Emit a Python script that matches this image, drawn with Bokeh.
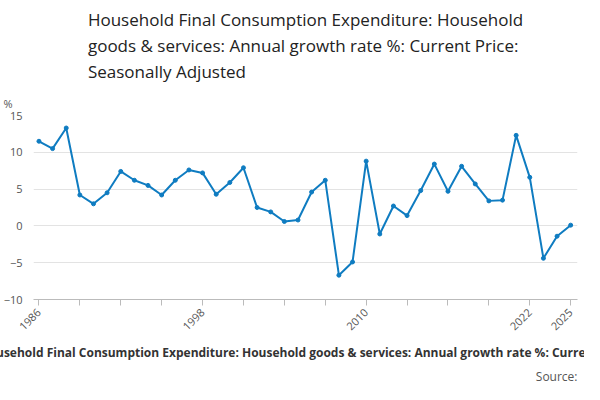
from bokeh.plotting import figure
from bokeh.models import Title, FixedTicker
from bokeh.embed import file_html
from bokeh.resources import INLINE

years = list(range(1986, 2026))
growth = [11.5, 10.5, 13.3, 4.2, 3.0, 4.5, 7.4, 6.2, 5.5, 4.2,
          6.2, 7.6, 7.2, 4.3, 5.9, 7.9, 2.5, 1.9, 0.6, 0.8,
          4.6, 6.2, -6.7, -4.9, 8.8, -1.1, 2.7, 1.4, 4.8, 8.4,
          4.7, 8.1, 5.7, 3.4, 3.5, 12.3, 6.6, -4.4, -1.4, 0.1]
x_ticks = list(range(1986, 2026, 3))
x_labels = {1986: "1986", 1998: "1998", 2010: "2010", 2022: "2022", 2025: "2025"}
y_ticks = [-10, -5, 0, 5, 10, 15]
title_text = ("Household Final Consumption Expenditure: Household\n"
              "goods & services: Annual growth rate %: Current Price:\n"
              "Seasonally Adjusted")
footer = "Household Final Consumption Expenditure: Household goods & services: Annual growth rate %: Current Price"

col = "#0f7cc1"
p = figure(width=584, height=384, output_backend="svg", toolbar_location=None,
           x_range=(1985.6, 2025.5), y_range=(-10, 15),
           min_border_left=32, min_border_right=7, min_border_top=80, min_border_bottom=80)
p.outline_line_color = None
p.xgrid.grid_line_color = None
p.ygrid.grid_line_color = "#e3e3e3"
p.line(years, growth, color=col, line_width=2)
p.scatter(years, growth, color=col, size=4)

p.xaxis.ticker = FixedTicker(ticks=x_ticks)
p.xaxis.major_label_overrides = {t: x_labels.get(t, "") for t in x_ticks}
p.xaxis.major_label_orientation = 0.785
p.xaxis.minor_tick_line_color = None
p.xaxis.axis_line_color = "#bbbbbb"
p.xaxis.major_tick_line_color = "#bbbbbb"
p.xaxis.major_tick_in = 0
p.xaxis.major_tick_out = 6
p.yaxis.ticker = FixedTicker(ticks=y_ticks)
p.yaxis.axis_line_color = None
p.yaxis.major_tick_line_color = None
p.yaxis.minor_tick_line_color = None
for ax in (p.xaxis, p.yaxis):
    ax.major_label_text_font = "Open Sans"
    ax.major_label_text_font_size = "11px"
    ax.major_label_text_color = "#555555"

p.add_layout(Title(text="%", align="left", offset=-30, text_font="Open Sans",
                   text_font_size="11px", text_font_style="normal", text_color="#555555"), "above")
p.add_layout(Title(text=title_text, align="center", text_font="Open Sans",
                   text_font_size="17px", text_font_style="normal", text_color="#222222",
                   text_line_height=1.15), "above")
p.add_layout(Title(text=footer, align="center", text_font="Open Sans",
                   text_font_size="12px", text_font_style="bold", text_color="#333333"), "below")
p.add_layout(Title(text="Source:", align="right", text_font="Open Sans",
                   text_font_size="12px", text_font_style="normal", text_color="#555555",
                   standoff=0), "below")

open("out.html", "w").write(file_html(p, INLINE))
